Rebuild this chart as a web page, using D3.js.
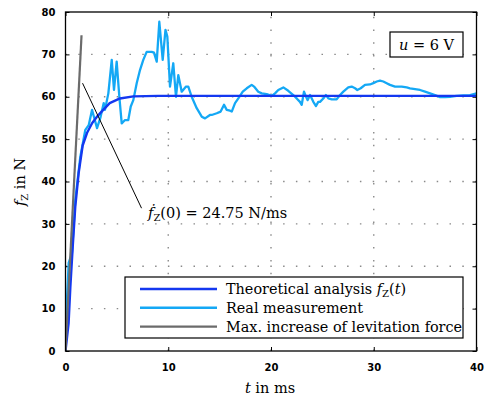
<!DOCTYPE html>
<html>
<head>
<meta charset="utf-8">
<script src="https://cdn.jsdelivr.net/npm/d3@7"></script>
<style>
  body { margin: 0; background: #fff; }
  svg text { font-family: "DejaVu Serif", serif; }
  .tick text { font-family: "DejaVu Sans", sans-serif; font-weight: bold; font-size: 10px; fill: #000; }
</style>
</head>
<body>
<svg id="chart" width="486" height="401"></svg>
<script>
// ticks
const xTicks = [0, 10, 20, 30, 40];
const yTicks = [0, 10, 20, 30, 40, 50, 60, 70, 80];

// theoretical analysis f_Z(t) [t in ms, f in N]
const theoT = [0, 0.3, 0.47, 0.7, 0.95, 1.28, 1.67, 2.1, 2.6, 3.1, 3.4, 4.3, 5.3, 6.6, 9, 40];
const theoF = [0, 6.5, 15, 24.5, 34, 42, 48.5, 51.5, 53.8, 55.4, 56.2, 58.5, 59.6, 60.1, 60.2, 60.2];

// real measurement
const measT = [0.02, 0.05, 0.31, 0.63, 0.95, 1.44, 1.93, 2.26, 2.58, 2.80, 3.07, 3.39, 3.72, 3.84, 4.17, 4.50, 4.72, 4.98, 5.24, 5.47, 5.79, 6.11, 6.35, 6.60, 6.93, 7.25, 7.57, 7.90, 8.39, 8.61, 8.88, 9.13, 9.46, 9.73, 9.91, 10.17, 10.49, 10.75, 10.98, 11.31, 11.73, 11.95, 12.28, 12.77, 13.26, 13.58, 14.06, 14.23, 14.72, 15.10, 15.43, 15.69, 16.01, 16.18, 16.50, 16.82, 17.25, 17.64, 18.12, 18.35, 18.76, 19.10, 19.58, 20.07, 20.39, 20.71, 21.20, 21.68, 22.17, 22.50, 22.82, 22.99, 23.21, 23.41, 23.57, 23.80, 24.12, 24.38, 24.60, 24.77, 25.09, 25.35, 25.58, 25.91, 26.39, 26.72, 27.04, 27.52, 27.85, 28.18, 28.40, 28.73, 29.15, 29.63, 29.96, 30.29, 30.61, 30.93, 31.26, 31.58, 32.07, 32.72, 33.21, 33.53, 34.02, 34.50, 34.99, 35.48, 35.96, 36.45, 36.94, 37.42, 38.07, 38.72, 39.37, 40.0];
const measF = [4, 7.3, 20.8, 23.1, 35.6, 45.8, 52.2, 53.3, 56.9, 55.0, 52.6, 55.0, 58.5, 56.9, 60.8, 68.7, 61.6, 68.3, 60.0, 53.7, 54.5, 54.5, 57.7, 59.2, 63.2, 66.3, 68.7, 70.6, 70.6, 70.4, 68.3, 77.7, 68.7, 75.8, 74.2, 62.4, 67.9, 60.0, 65.1, 61.2, 62.4, 62.4, 60.0, 57.3, 55.3, 54.9, 55.7, 55.7, 56.1, 56.5, 58.1, 56.9, 56.7, 56.5, 58.5, 59.6, 61.2, 62.0, 62.8, 62.4, 61.2, 60.8, 60.6, 60.2, 60.8, 61.6, 62.2, 61.4, 60.4, 59.6, 58.8, 58.1, 61.2, 60.0, 59.2, 60.4, 58.8, 57.8, 58.8, 58.8, 59.6, 60.4, 59.6, 59.4, 59.4, 60.4, 61.2, 62.2, 62.4, 62.0, 61.6, 62.0, 62.8, 62.9, 63.2, 63.6, 63.8, 63.6, 63.2, 62.8, 62.4, 62.4, 62.2, 62.0, 61.8, 61.6, 61.2, 60.8, 60.4, 59.9, 59.9, 60.0, 60.2, 60.3, 60.4, 60.8];

// max. increase of levitation force (tangent at t = 0)
const maxT = [0, 1.56];
const maxF = [0, 74.5];

// annotation pointer line
const pointerT = [1.66, 7.4];
const pointerF = [63.2, 33.7];

const legendItems = [
  { color: "#1438f0", label: "theo" },
  { color: "#14a8f5", label: "Real measurement" },
  { color: "#6b6b6b", label: "Max. increase of levitation force" }
];

const width = 486, height = 401;
const margin = { top: 12, right: 9.5, bottom: 50, left: 65.5 };
const svg = d3.select("#chart");

const x = d3.scaleLinear().domain([0, 40]).range([margin.left, width - margin.right]);
const y = d3.scaleLinear().domain([0, 80]).range([height - margin.bottom, margin.top]);

const pw = x(40) - x(0), ph = y(0) - y(80);

// grid
const grid = svg.append("g").attr("stroke", "#8a8a8a").attr("stroke-width", 1.4)
  .attr("stroke-dasharray", "1.5,11.3");
grid.selectAll("line.v").data(xTicks.slice(1, -1)).enter().append("line")
  .attr("x1", d => x(d)).attr("x2", d => x(d)).attr("y1", y(0)).attr("y2", y(80));
grid.selectAll("line.h").data(yTicks.slice(1, -1)).enter().append("line")
  .attr("x1", x(0)).attr("x2", x(40)).attr("y1", d => y(d)).attr("y2", d => y(d));

// axes with inward ticks
const axStyle = g => {
  g.select(".domain").remove();
  g.selectAll(".tick line").attr("stroke", "#000").attr("stroke-width", 1);
};
svg.append("g").attr("transform", `translate(0,${y(0)})`)
  .call(d3.axisBottom(x).tickValues(xTicks).tickSize(-4).tickPadding(13)).call(axStyle);
svg.append("g").attr("transform", `translate(0,${y(80)})`)
  .call(d3.axisTop(x).tickValues(xTicks).tickSize(-4).tickFormat("")).call(axStyle);
svg.append("g").attr("transform", `translate(${x(0)},0)`)
  .call(d3.axisLeft(y).tickValues(yTicks).tickSize(-4).tickPadding(10)).call(axStyle);
svg.append("g").attr("transform", `translate(${x(40)},0)`)
  .call(d3.axisRight(y).tickValues(yTicks).tickSize(-4).tickFormat("")).call(axStyle);

svg.append("clipPath").attr("id", "clip").append("rect")
  .attr("x", x(0)).attr("y", y(80)).attr("width", pw).attr("height", ph);

const line = d3.line().x(d => x(d[0])).y(d => y(d[1]));
const plot = svg.append("g").attr("clip-path", "url(#clip)").attr("fill", "none")
  .attr("stroke-linejoin", "round");

plot.append("path").datum(d3.zip(measT, measF)).attr("d", line)
  .attr("stroke", legendItems[1].color).attr("stroke-width", 2.3);
plot.append("path").datum(d3.zip(theoT, theoF)).attr("d", line)
  .attr("stroke", legendItems[0].color).attr("stroke-width", 2.4);
plot.append("path").datum(d3.zip(maxT, maxF)).attr("d", line)
  .attr("stroke", legendItems[2].color).attr("stroke-width", 2.2);
plot.append("path").datum(d3.zip(pointerT, pointerF)).attr("d", line)
  .attr("stroke", "#000").attr("stroke-width", 1);

// frame
svg.append("rect").attr("x", x(0)).attr("y", y(80)).attr("width", pw).attr("height", ph)
  .attr("fill", "none").attr("stroke", "#000").attr("stroke-width", 1.3);

// annotation f'_Z(0)
const ann = svg.append("text").attr("x", 148).attr("y", 218).attr("font-size", 14.5);
ann.append("tspan").attr("font-style", "italic").text("ḟ");
ann.append("tspan").attr("font-size", 10).attr("dy", 3).text("Z");
ann.append("tspan").attr("dy", -3).text("(0) = 24.75 N/ms");

// u = 6 V box
svg.append("rect").attr("x", 390).attr("y", 32).attr("width", 73).attr("height", 25)
  .attr("fill", "#fff").attr("stroke", "#000").attr("stroke-width", 1.2);
const ut = svg.append("text").attr("x", 426.5).attr("y", 50).attr("text-anchor", "middle").attr("font-size", 14.5);
ut.append("tspan").attr("font-style", "italic").text("u");
ut.append("tspan").text(" =  6 V");

// legend
const lg = svg.append("g");
lg.append("rect").attr("x", 125).attr("y", 277).attr("width", 338).attr("height", 61)
  .attr("fill", "#fff").attr("stroke", "#000").attr("stroke-width", 1.2);
const rows = lg.selectAll("g.row").data(legendItems).enter().append("g")
  .attr("transform", (d, i) => `translate(0,${289 + i * 18.8})`);
rows.append("line").attr("x1", 140).attr("x2", 217).attr("stroke", d => d.color).attr("stroke-width", 2.4);
rows.each(function (d) {
  const t = d3.select(this).append("text").attr("x", 226).attr("y", 5).attr("font-size", 14.4);
  if (d.label === "theo") {
    t.append("tspan").text("Theoretical analysis ");
    t.append("tspan").attr("font-style", "italic").text("f");
    t.append("tspan").attr("font-size", 10).attr("dy", 3).text("Z");
    t.append("tspan").attr("dy", -3).text("(");
    t.append("tspan").attr("font-style", "italic").text("t");
    t.append("tspan").text(")");
  } else {
    t.text(d.label);
  }
});

// axis labels
const xl = svg.append("text").attr("x", 270).attr("y", 393).attr("text-anchor", "middle").attr("font-size", 14.5);
xl.append("tspan").attr("font-style", "italic").text("t");
xl.append("tspan").text(" in ms");

const yl = svg.append("text").attr("transform", "translate(25,182) rotate(-90)")
  .attr("text-anchor", "middle").attr("font-size", 14.5);
yl.append("tspan").attr("font-style", "italic").text("f");
yl.append("tspan").attr("font-size", 10).attr("dy", 3).text("Z");
yl.append("tspan").attr("dy", -3).text(" in N");
</script>
</body>
</html>
